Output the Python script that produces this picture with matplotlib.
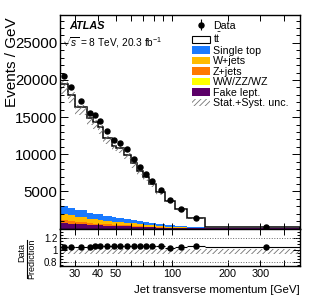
import numpy as np
import matplotlib
matplotlib.use('Agg')
import matplotlib.pyplot as plt
import matplotlib.ticker as ticker
from matplotlib.patches import Patch
from matplotlib.lines import Line2D

plt.rcParams['font.family'] = ['Liberation Sans', 'DejaVu Sans']
plt.rcParams['mathtext.fontset'] = 'custom'
plt.rcParams['mathtext.rm'] = 'Liberation Sans'
plt.rcParams['mathtext.it'] = 'Liberation Sans:italic'
plt.rcParams['mathtext.bf'] = 'Liberation Sans:bold'
plt.rcParams['hatch.linewidth'] = 0.6

#----------jet pT binning [GeV]----------
edges = [25, 27.5, 30, 35, 37.5, 40, 42.5, 47.5, 50, 55, 60, 65, 70, 75, 82, 92, 104, 120, 150, 490]

#----------events / GeV----------
data = [20480, 19000, 17220, 15570, 15250, 14530, 13100, 11890, 11540, 10640,
        9390, 8320, 7380, 6390, 5180, 3800, 2680, 1480, 200]
data_err = [90, 87, 59, 79, 78, 76, 51, 69, 48, 46, 43, 41, 38, 30, 23, 19, 13, 7, 1]

ttbar = [16370, 15250, 13885, 12770, 12320, 11750, 10550, 9650, 9420, 8655,
         7650, 6745, 6010, 5270, 4280, 3240, 2285, 1245, 174]
single_top = [1080, 1000, 900, 800, 760, 720, 650, 590, 560, 510, 450, 400, 350, 300, 240, 170, 115, 60, 6]
wjets = [880, 800, 700, 610, 570, 540, 480, 430, 400, 360, 320, 280, 240, 200, 160, 110, 75, 40, 4]
zjets = [340, 300, 260, 220, 200, 190, 170, 150, 140, 125, 110, 95, 80, 70, 55, 40, 25, 14, 2]
diboson = [40, 38, 35, 32, 30, 28, 26, 24, 22, 20, 18, 16, 14, 12, 10, 8, 5, 3, 1]
fakes = [700, 620, 540, 470, 440, 410, 360, 320, 300, 270, 235, 205, 175, 150, 115, 80, 55, 28, 3]

# relative stat.+syst. uncertainty (up / down)
unc_up = [0.02, 0.02, 0.02, 0.02, 0.02, 0.02, 0.02, 0.02, 0.02, 0.02,
          0.02, 0.02, 0.02, 0.02, 0.02, 0.02, 0.02, 0.02, 0.02]
unc_dn = [0.065, 0.065, 0.065, 0.065, 0.065, 0.065, 0.065, 0.065, 0.065, 0.065,
          0.065, 0.065, 0.065, 0.065, 0.065, 0.065, 0.065, 0.065, 0.065]

#=========================figure==============================
W, H = 316., 306.
fig = plt.figure(figsize=(W/100, H/100), dpi=100)
ax = fig.add_axes([60/W, 1-228.5/H, 240/W, 213.5/H])
axr = fig.add_axes([60/W, 1-266/H, 240/W, 37.5/H], sharex=ax)

edges = np.array(edges)
centers = 0.5*(edges[:-1] + edges[1:])
halfw = 0.5*(edges[1:] - edges[:-1])

layers = [fakes, diboson, zjets, wjets, single_top, ttbar]
colors = ['#5c0068', '#ffff00', '#ff7a00', '#ffbb00', '#1a7aff', 'white']
base = np.zeros(len(data))
for vals, c in zip(layers, colors):
    top = base + np.array(vals)
    ax.stairs(top, edges, baseline=base, fill=True, facecolor=c, edgecolor='none', lw=0)
    base = top
total = base
ax.stairs(total, edges, color='black', lw=1.1)

up = np.array(unc_up); dn = np.array(unc_dn)
ax.stairs(total*(1+up), edges, baseline=total*(1-dn), fill=True, facecolor='none',
          edgecolor='0.45', hatch='//////', lw=0)

hd = ax.errorbar(centers, data, yerr=data_err, fmt='o', color='black', ms=3.6,
                 lw=0.8, capsize=0, zorder=5)

ax.set_xscale('log')
ax.set_xlim(25, 490)
ax.set_ylim(0, 28750)
ax.yaxis.set_major_locator(ticker.FixedLocator([5000, 10000, 15000, 20000, 25000]))
ax.yaxis.set_minor_locator(ticker.MultipleLocator(1000))
ax.tick_params(axis='y', labelsize=10.8, pad=2)

xt = [30, 40, 50, 60, 70, 80, 90, 100, 200, 300, 400]
xl = {30: '30', 40: '40', 50: '50', 100: '100', 200: '200', 300: '300'}
for a in (ax, axr):
    a.xaxis.set_major_locator(ticker.FixedLocator(xt))
    a.xaxis.set_minor_locator(ticker.NullLocator())
    a.xaxis.set_major_formatter(ticker.FuncFormatter(lambda v, p: xl.get(int(round(v)), '')))
    a.tick_params(which='both', direction='in', top=True, right=True, width=0.7)
    a.tick_params(which='major', length=6)
    a.tick_params(which='minor', length=3)
    a.tick_params(axis='x', which='major', length=4)
    for s in a.spines.values():
        s.set_linewidth(1.0)
ax.tick_params(labelbottom=False)

#-----------ratio panel--------------
ratio = np.array(data)/total
ratio_err = np.array(data_err)/total
axr.stairs(1+up, edges, baseline=1-dn, fill=True, facecolor='none',
           edgecolor='0.45', hatch='//////', lw=0)
axr.axhline(1.2, ls=':', color='0.4', lw=0.7)
axr.axhline(0.8, ls=':', color='0.4', lw=0.7)
axr.errorbar(centers, ratio, xerr=halfw, yerr=ratio_err, fmt='o', color='black',
             ms=3.6, lw=0.8, capsize=0, zorder=5)
axr.set_ylim(0.735, 1.36)
axr.yaxis.set_major_locator(ticker.FixedLocator([0.8, 1.0, 1.2]))
axr.yaxis.set_major_formatter(ticker.FormatStrFormatter('%g'))
axr.yaxis.set_minor_locator(ticker.MultipleLocator(0.05))
axr.tick_params(axis='y', labelsize=7, pad=2)
axr.tick_params(axis='y', which='major', length=5)
axr.tick_params(axis='y', which='minor', length=2.5)
axr.tick_params(axis='x', labelsize=7.8, pad=2)

#-----------labels------------
fig.text(12/W, 1-17/H, 'Events / GeV', rotation=90, ha='center', va='top', fontsize=11)
fig.text(22/W, 1-253/H, 'Data', rotation=90, ha='center', va='center', fontsize=6.5)
fig.add_artist(Line2D([27/W, 27/W], [1-240/H, 1-278/H], transform=fig.transFigure,
                      color='black', lw=0.8))
fig.text(32/W, 1-259/H, 'Prediction', rotation=90, ha='center', va='center', fontsize=6.5)
fig.text(300/W, 1-290/H, 'Jet transverse momentum [GeV]', ha='right', va='center', fontsize=8.25)

fig.text(69/W, 1-26/H, 'ATLAS', fontsize=7.8, weight='bold', style='italic', va='center')
fig.text(62/W, 1-43/H, r'$\sqrt{s}$ = 8 TeV, 20.3 fb$^{-1}$', fontsize=7.3, va='center')

handles = [hd,
           Patch(facecolor='white', edgecolor='black', lw=0.8),
           Patch(facecolor=colors[4], edgecolor='none'),
           Patch(facecolor=colors[3], edgecolor='none'),
           Patch(facecolor=colors[2], edgecolor='none'),
           Patch(facecolor=colors[1], edgecolor='none'),
           Patch(facecolor=colors[0], edgecolor='none'),
           Patch(facecolor='none', edgecolor='0.45', hatch='//////', lw=0)]
labels = ['Data', r'$\mathrm{t\bar{t}}$', 'Single top', 'W+jets', 'Z+jets',
          'WW/ZZ/WZ', 'Fake lept.', 'Stat.+Syst. unc.']
ax.legend(handles, labels, loc='upper left', bbox_to_anchor=(0.55, 0.974),
          frameon=False, fontsize=7.7, handlelength=1.65, handletextpad=0.3,
          labelspacing=0.05, borderpad=0, borderaxespad=0, handleheight=0.7)

fig.savefig('out.png', dpi=100)
